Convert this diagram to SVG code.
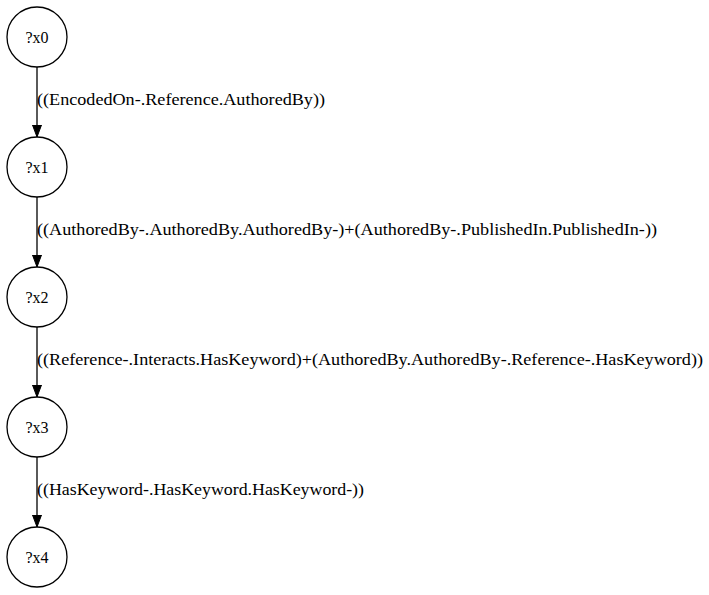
<svg xmlns="http://www.w3.org/2000/svg" width="709" height="595" viewBox="0 0 709 595">
<style>
.n{fill:none;stroke:#000;stroke-width:1.3}
.t{font-family:"Liberation Serif","Times New Roman",serif;font-size:16px;fill:#000}
.e{stroke:#000;stroke-width:1.3;fill:none}
</style>
<defs>
<marker id="a" markerWidth="13" markerHeight="10" refX="12.5" refY="5" orient="auto" markerUnits="userSpaceOnUse">
<path d="M0.5,0.5 L12.5,5 L0.5,9.5 Z" fill="#000" stroke="#000"/>
</marker>
</defs>
<rect width="709" height="595" fill="#fff"/>
<g id="edges">
<line class="e" x1="37" y1="67" x2="37" y2="137" marker-end="url(#a)"/>
<line class="e" x1="37" y1="197" x2="37" y2="267" marker-end="url(#a)"/>
<line class="e" x1="37" y1="327" x2="37" y2="397" marker-end="url(#a)"/>
<line class="e" x1="37" y1="457" x2="37" y2="527" marker-end="url(#a)"/>
<text class="t" x="37" y="105" textLength="288" lengthAdjust="spacingAndGlyphs">((EncodedOn-.Reference.AuthoredBy))</text>
<text class="t" x="37" y="235" textLength="620" lengthAdjust="spacingAndGlyphs">((AuthoredBy-.AuthoredBy.AuthoredBy-)+(AuthoredBy-.PublishedIn.PublishedIn-))</text>
<text class="t" x="37" y="365" textLength="666" lengthAdjust="spacingAndGlyphs">((Reference-.Interacts.HasKeyword)+(AuthoredBy.AuthoredBy-.Reference-.HasKeyword))</text>
<text class="t" x="37" y="495" textLength="327" lengthAdjust="spacingAndGlyphs">((HasKeyword-.HasKeyword.HasKeyword-))</text>
</g>
<g id="x0"><circle class="n" cx="37" cy="37" r="30"/><text class="t" x="37" y="43" text-anchor="middle">?x0</text></g>
<g id="x1"><circle class="n" cx="37" cy="167" r="30"/><text class="t" x="37" y="173" text-anchor="middle">?x1</text></g>
<g id="x2"><circle class="n" cx="37" cy="297" r="30"/><text class="t" x="37" y="303" text-anchor="middle">?x2</text></g>
<g id="x3"><circle class="n" cx="37" cy="427" r="30"/><text class="t" x="37" y="433" text-anchor="middle">?x3</text></g>
<g id="x4"><circle class="n" cx="37" cy="557" r="30"/><text class="t" x="37" y="563" text-anchor="middle">?x4</text></g>
</svg>
